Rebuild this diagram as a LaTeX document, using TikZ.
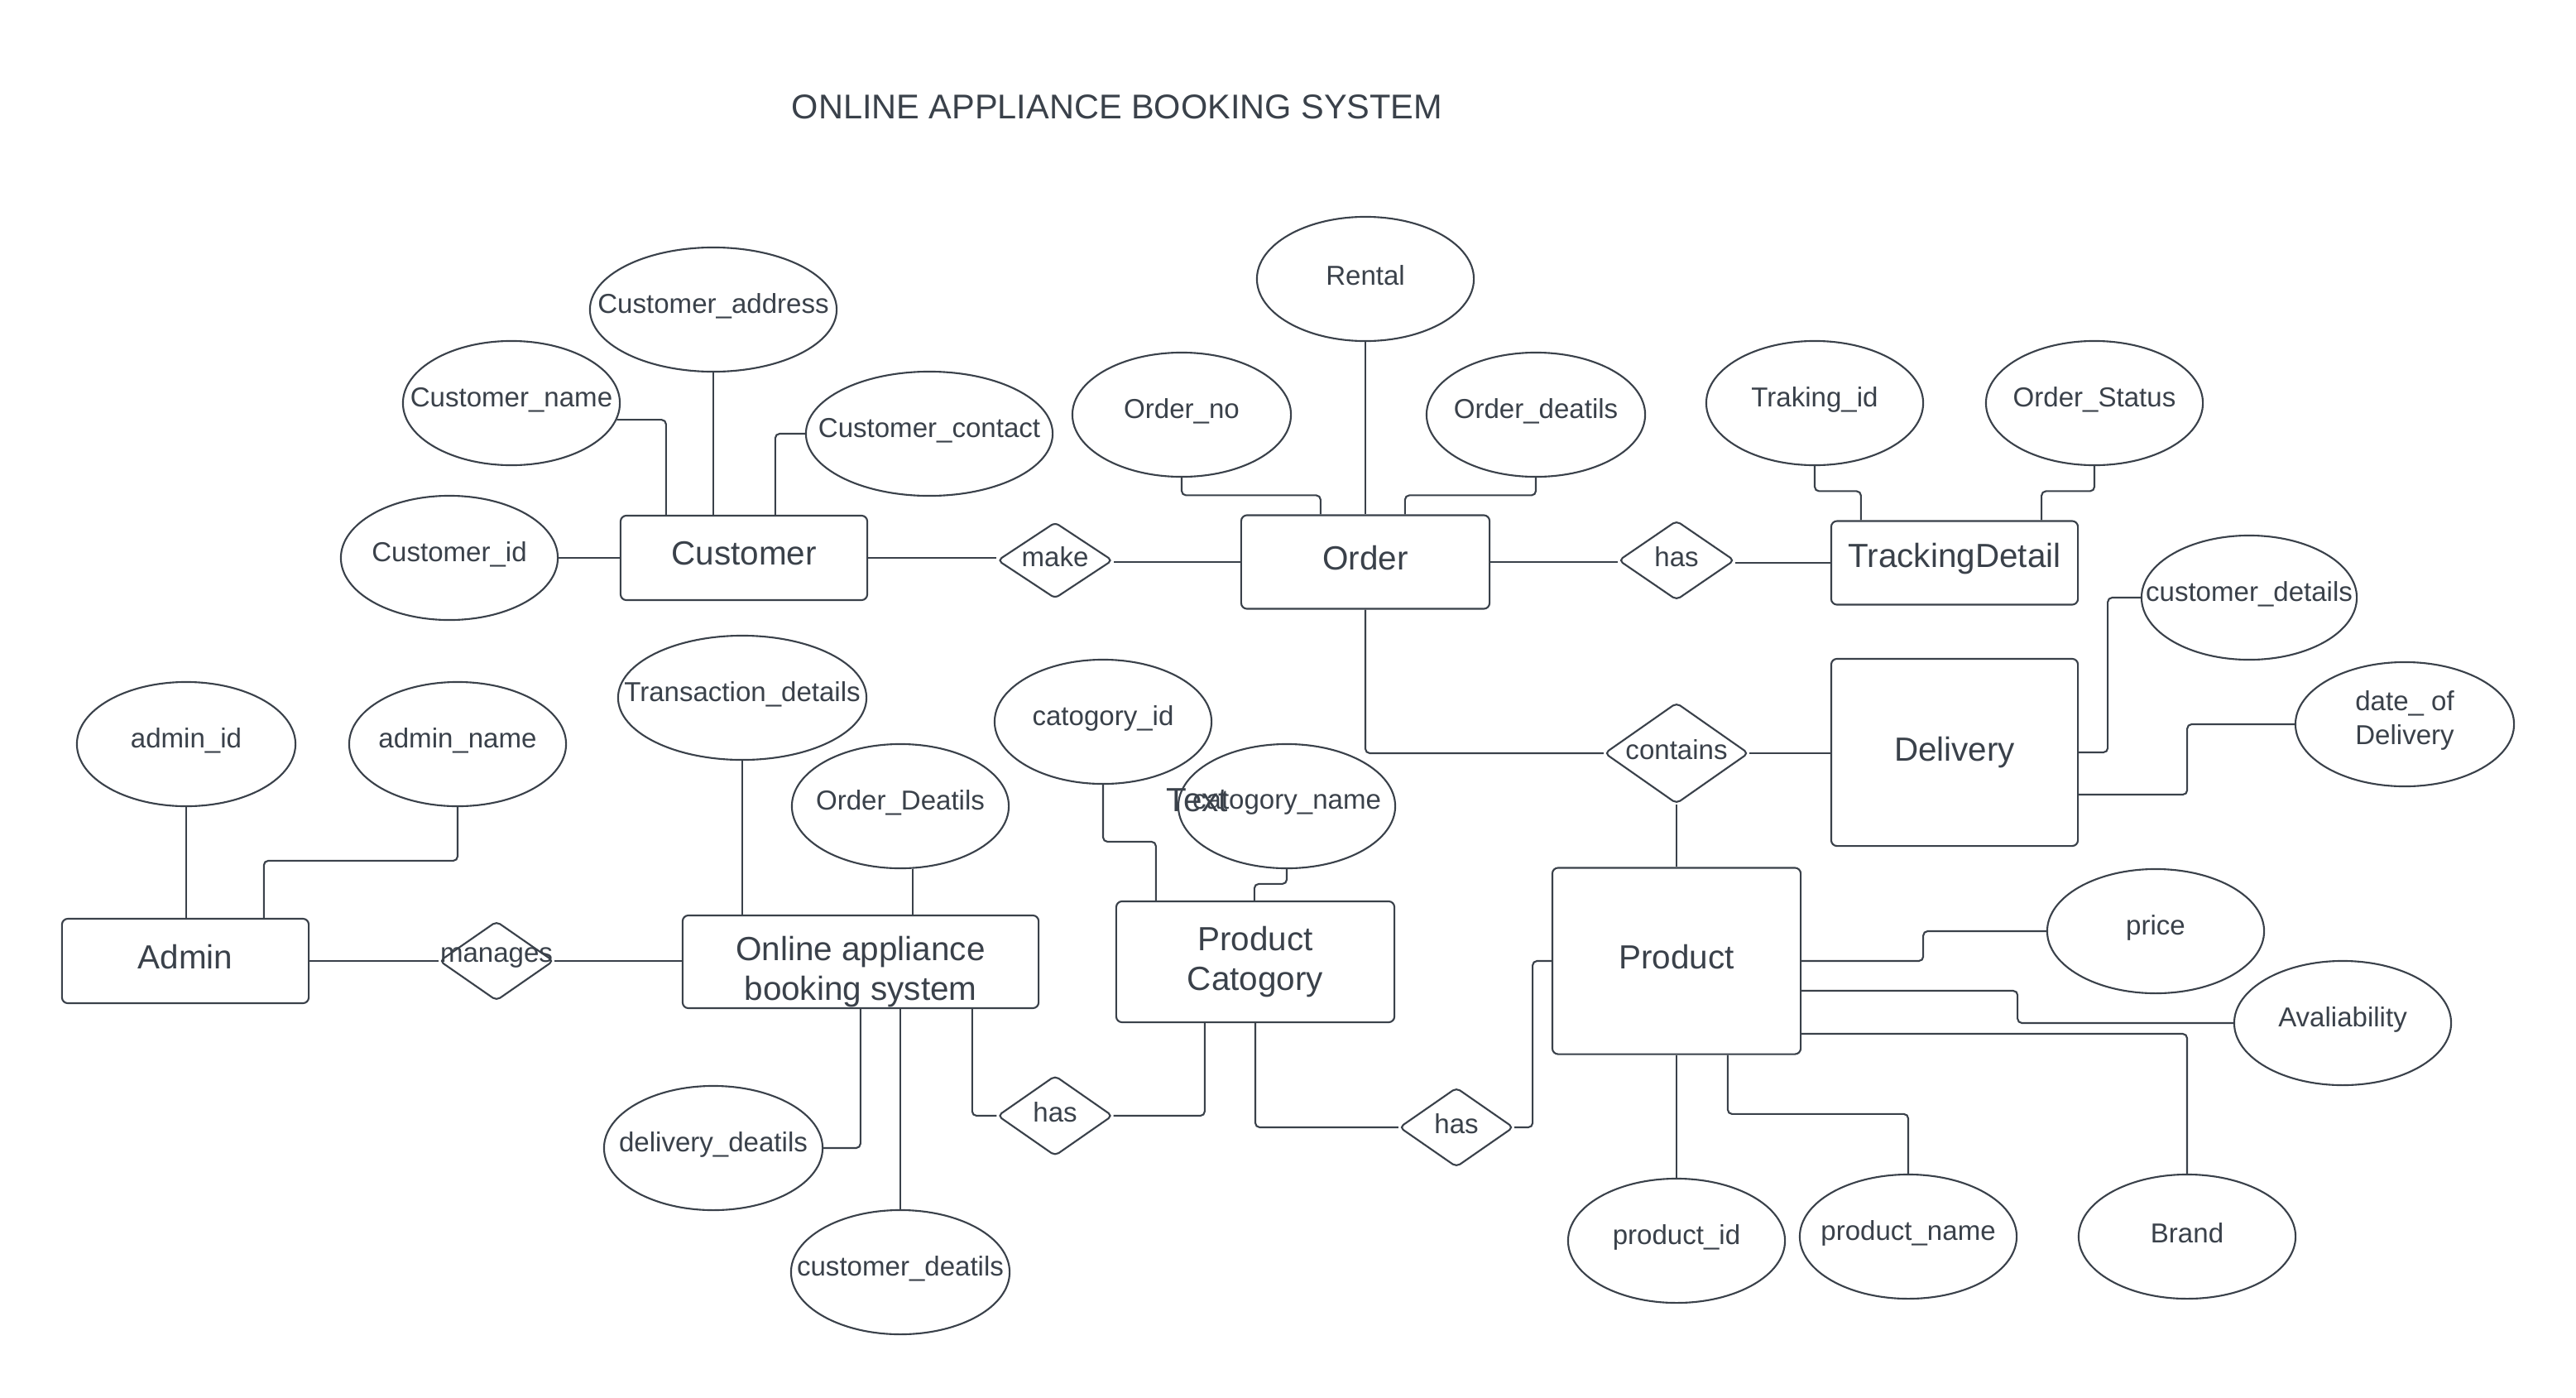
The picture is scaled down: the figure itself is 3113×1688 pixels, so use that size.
\documentclass[tikz,border=0pt]{standalone}
\usepackage{fontspec}
\setmainfont{Liberation Sans}
\usetikzlibrary{shapes.geometric,calc}
\definecolor{ink}{HTML}{3A414A}
\newcommand{\attrsz}{\fontsize{9.4}{11.4}\selectfont}
\newcommand{\entsz}{\fontsize{11.5}{13.8}\selectfont}
\newcommand{\titlesz}{\fontsize{11.8}{14}\selectfont}
\newcommand{\up}[2]{\raisebox{#1}[\height][\depth]{#2}}
\newcommand{\zw}[1]{\up{0.04cm}{\makebox[0pt]{#1}}}
\newcommand{\ew}[1]{\up{0.05cm}{#1}}
\begin{document}
\begin{tikzpicture}[x=0.01cm,y=-0.01cm,
 every node/.style={text=ink},
 ent/.style={draw=ink, line width=0.6pt, rounded corners=2pt, inner sep=0pt, font=\entsz, align=center},
 attr/.style={draw=ink, ellipse, line width=0.6pt, inner sep=0pt, minimum width=2.62cm, minimum height=1.5cm, font=\attrsz},
 rel/.style={draw=ink, diamond, line width=0.6pt, inner sep=0pt, rounded corners=1.5pt, minimum width=1.39cm, minimum height=0.96cm, font=\attrsz},
 conn/.style={draw=ink, line width=0.6pt, rounded corners=1.5pt},
]
\fill[white] (0,0) rectangle (3113,1688);
\useasboundingbox (0,0) rectangle (3113,1688);

\node[font=\titlesz] (title) at (1350,129) {ONLINE APPLIANCE BOOKING SYSTEM};

% entities
\node[ent, minimum width=2.98cm, minimum height=1.02cm] (cust) at (899,674) {\ew{Customer}};
\node[ent, minimum width=3.00cm, minimum height=1.13cm] (order) at (1650,679) {\ew{Order}};
\node[ent, minimum width=2.98cm, minimum height=1.01cm] (track) at (2362,680) {\ew{TrackingDetail}};
\node[ent, minimum width=2.98cm, minimum height=2.26cm] (deliv) at (2362,909) {Delivery};
\node[ent, minimum width=2.98cm, minimum height=1.02cm] (admin) at (224,1161) {\ew{Admin}};
\node[ent, minimum width=4.30cm, minimum height=1.12cm,
  label={[font=\entsz, align=center, yshift=-0.12cm]center:Online appliance\\booking system}] (oabs) at (1040,1162) {};
\node[ent, minimum width=3.36cm, minimum height=1.46cm] (pcat) at (1517,1162) {Product\\Catogory};
\node[ent, minimum width=3.00cm, minimum height=2.25cm] (prod) at (2026,1161) {\ew{Product}};

% relationships
\node[rel, minimum height=0.92cm] (make) at (1275,677) {\zw{make}};
\node[rel, minimum width=1.40cm] (hasT) at (2026,677) {\zw{has}};
\node[rel, minimum width=1.74cm, minimum height=1.22cm] (contains) at (2026,910) {\zw{contains}};
\node[rel, minimum width=1.38cm] (manages) at (600,1161) {\zw{manages}};
\node[rel, minimum height=0.97cm] (hasL) at (1275,1348) {\zw{has}};
\node[rel, minimum width=1.38cm] (hasR) at (1760,1362) {\zw{has}};

% attributes
\node[attr] (cid) at (543,674) {\zw{Customer\_id}};
\node[attr] (cname) at (618,487) {\zw{Customer\_name}};
\node[attr, minimum width=2.98cm] (caddr) at (862,374) {\zw{Customer\_address}};
\node[attr, minimum width=2.98cm] (ccont) at (1123,524) {\zw{Customer\_contact}};
\node[attr] (rental) at (1650,337) {\zw{Rental}};
\node[attr, minimum width=2.64cm] (ono) at (1428,501) {\zw{Order\_no}};
\node[attr, minimum width=2.64cm] (odet) at (1856,501) {\zw{Order\_deatils}};
\node[attr] (trk) at (2193,487) {\zw{Traking\_id}};
\node[attr] (ostat) at (2531,487) {\zw{Order\_Status}};
\node[attr, minimum width=2.60cm] (cdet) at (2718,722) {\zw{customer\_details}};
\node[attr, minimum width=2.64cm] (ddate) at (2906,875) {\zw{\begin{tabular}{@{}c@{}}date\_ of\\Delivery\end{tabular}}};
\node[attr, minimum width=2.64cm] (aid) at (225,899) {\zw{admin\_id}};
\node[attr] (aname) at (553,899) {\zw{admin\_name}};
\node[attr, minimum width=3.00cm] (trans) at (897,843) {\zw{Transaction\_details}};
\node[attr] (odeat) at (1088,974) {\zw{Order\_Deatils}};
\node[attr] (catid) at (1333,872) {\zw{catogory\_id}};
\node[attr] (catname) at (1555,974) {\zw{catogory\_name}};
\node[attr, minimum width=2.64cm] (ddet) at (862,1387) {\zw{delivery\_deatils}};
\node[attr, minimum width=2.64cm] (cdeat) at (1088,1537) {\zw{customer\_deatils}};
\node[attr] (price) at (2605,1125) {\zw{price}};
\node[attr] (avail) at (2831,1236) {\zw{Avaliability}};
\node[attr] (pid) at (2026,1499) {\zw{product\_id}};
\node[attr] (pname) at (2306,1494) {\zw{product\_name}};
\node[attr] (brand) at (2643,1494) {\zw{Brand}};

\node[font=\entsz] (stray) at (1447,967) {Text};

% connectors: Customer
\draw[conn] (cid) -- (cust);
\draw[conn] (cname.-9) -| ($(cust.north west)+(56,0)$);
\draw[conn] (caddr.south) -- (caddr.south |- cust.north);
\draw[conn] (ccont.west) -| ($(cust.north west)+(188,0)$);
\draw[conn] (cust.east) -- (cust.east -| make.west);
% Order
\draw[conn] (order.west) -- (order.west -| make.east);
\draw[conn] (ono.south) |- ($(order.north west)+(97,-23)$) -- ($(order.north west)+(97,0)$);
\draw[conn] (rental.south) -- (rental.south |- order.north);
\draw[conn] (odet.south) |- ($(order.north west)+(199,-23)$) -- ($(order.north west)+(199,0)$);
\draw[conn] (order.east) -- (order.east -| hasT.west);
\draw[conn] (track.west) -- (track.west -| hasT.east);
\draw[conn] (order.south) |- (contains.west);
% Tracking
\draw[conn] (trk.south) |- ($(track.north west)+(37,-35)$) -- ($(track.north west)+(37,0)$);
\draw[conn] (ostat.south) |- ($(track.north east)+(-45,-35)$) -- ($(track.north east)+(-45,0)$);
% Delivery
\draw[conn] (contains.east) -- (contains.east -| deliv.west);
\draw[conn] (deliv.east) -- ++(35,0) |- (cdet.west);
\draw[conn] ($(deliv.east)+(0,51)$) -- ++(131,0) |- (ddate.west);
% Admin
\draw[conn] (aid.south) -- (aid.south |- admin.north);
\draw[conn] (aname.south) |- ($(admin.north west)+(245,-69)$) -- ($(admin.north west)+(245,0)$);
\draw[conn] (admin.east) -- (admin.east -| manages.west);
\draw[conn] (manages.east) -- (manages.east -| oabs.west);
% Online appliance booking system
\draw[conn, line width=0.45pt] (trans.south) -- (trans.south |- oabs.north);
\draw[conn] (odeat.-79) -- (odeat.-79 |- oabs.north);
\draw[conn] ($(oabs.south west)+(216,0)$) |- (ddet.east);
\draw[conn] (cdeat.north) -- (cdeat.north |- oabs.south);
\draw[conn] ($(oabs.south west)+(351,0)$) |- (hasL.west);
\draw[conn] (hasL.east) -| ($(pcat.south west)+(108,0)$);
% Product Catogory
\draw[conn] (catid.south) |- ($(pcat.north west)+(49,-71)$) -- ($(pcat.north west)+(49,0)$);
\draw[conn] (catname.south) |- ($(pcat.north west)+(168,-20)$) -- ($(pcat.north west)+(168,0)$);
\draw[conn] (pcat.south) |- (hasR.west);
\draw[conn] (hasR.east) -- ++(22,0) |- (prod.west);
% Product
\draw[conn] (contains.south) -- (contains.south |- prod.north);
\draw[conn] (prod.east) -- ++(147,0) |- (price.west);
\draw[conn] ($(prod.east)+(0,36)$) -- ++(261,0) |- (avail.west);
\draw[conn] ($(prod.east)+(0,88)$) -| (brand.north);
\draw[conn] (prod.south) -- (prod.south |- pid.north);
\draw[conn] ($(prod.south west)+(213,0)$) |- ($(pname.north)+(0,-72)$) -- (pname.north);
\end{tikzpicture}
\end{document}
